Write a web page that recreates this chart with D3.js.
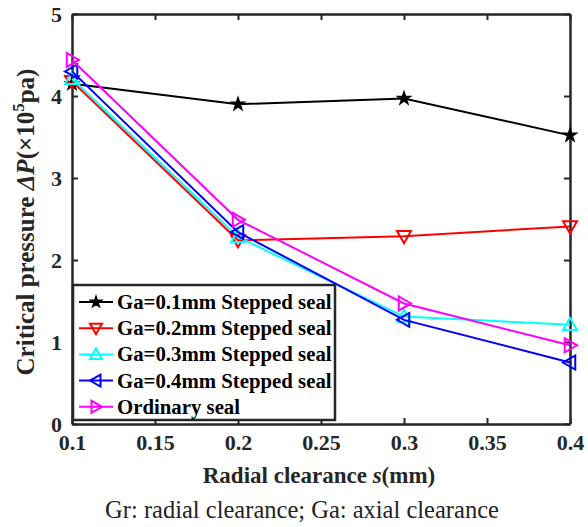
<!DOCTYPE html>
<html>
<head>
<meta charset="utf-8">
<script src="https://cdn.jsdelivr.net/npm/d3@7"></script>
<style>
body { margin: 0; background: #fff; }
svg text { font-family: "Liberation Serif", "Times New Roman", serif; }
</style>
</head>
<body>
<svg id="chart" width="588" height="527"></svg>
<script>
// clearance values (mm)
var clearance = [0.1, 0.2, 0.3, 0.4];

// critical pressure, x10^5 pa
var ga01 = [4.15, 3.90, 3.97, 3.52];
var ga02 = [4.18, 2.24, 2.29, 2.41];
var ga03 = [4.21, 2.28, 1.31, 1.21];
var ga04 = [4.30, 2.34, 1.27, 0.75];
var ordinary = [4.44, 2.49, 1.47, 0.96];

var seriesNames = ["Ga=0.1mm Stepped seal", "Ga=0.2mm Stepped seal", "Ga=0.3mm Stepped seal", "Ga=0.4mm Stepped seal", "Ordinary seal"];
var seriesColors = ["#000000", "#ff0000", "#00ffff", "#0000ff", "#ff00ff"];
var seriesMarkers = ["star", "down", "up", "left", "right"];
var seriesValues = [ga01, ga02, ga03, ga04, ordinary];

var xTicks = [0.1, 0.15, 0.2, 0.25, 0.3, 0.35, 0.4];
var yTicks = [0, 1, 2, 3, 4, 5];

var svg = d3.select("#chart");
var pLeft = 72, pRight = 570, pTop = 14, pBottom = 424;

var x = d3.scaleLinear().domain([0.1, 0.4]).range([pLeft, pRight]);
var y = d3.scaleLinear().domain([0, 5]).range([pBottom, pTop]);

function markerPath(type, r) {
  if (type == "star") {
    return d3.symbol().type(d3.symbolStar).size(r * r)();
  }
  var pts;
  if (type == "down") pts = [[-r, -r * 0.75], [r, -r * 0.75], [0, r]];
  if (type == "up") pts = [[-r, r * 0.75], [r, r * 0.75], [0, -r]];
  if (type == "left") pts = [[r * 0.75, -r], [r * 0.75, r], [-r, 0]];
  if (type == "right") pts = [[-r * 0.75, -r], [-r * 0.75, r], [r, 0]];
  return "M" + pts.join("L") + "Z";
}

// axes (inward ticks, boxed)
var axisColor = "#262626";
var gx = svg.append("g").attr("transform", "translate(0," + pBottom + ")")
  .call(d3.axisBottom(x).tickValues(xTicks).tickSizeInner(-6).tickSizeOuter(0)
    .tickFormat(function(d) { return String(+d.toFixed(2)); }));
var gxt = svg.append("g").attr("transform", "translate(0," + pTop + ")")
  .call(d3.axisTop(x).tickValues(xTicks).tickSizeInner(-6).tickSizeOuter(0).tickFormat(""));
var gy = svg.append("g").attr("transform", "translate(" + pLeft + ",0)")
  .call(d3.axisLeft(y).tickValues(yTicks).tickSizeInner(-6).tickSizeOuter(0).tickFormat(d3.format("d")));
var gyr = svg.append("g").attr("transform", "translate(" + pRight + ",0)")
  .call(d3.axisRight(y).tickValues(yTicks).tickSizeInner(-6).tickSizeOuter(0).tickFormat(""));

[gx, gxt, gy, gyr].forEach(function(g) {
  g.select(".domain").attr("stroke", axisColor).attr("stroke-width", 2.5);
  g.selectAll(".tick line").attr("stroke", axisColor).attr("stroke-width", 2);
  g.selectAll(".tick text").attr("fill", axisColor)
    .style("font-size", "22px").style("font-weight", "bold")
    .style("font-family", "'Liberation Serif', serif");
});
gx.selectAll(".tick text").attr("dy", "1.05em");
gy.selectAll(".tick text").attr("x", -10);

// lines and markers
var line = d3.line().x(function(d) { return x(d[0]); }).y(function(d) { return y(d[1]); });

seriesValues.forEach(function(vals, i) {
  var pts = clearance.map(function(c, j) { return [c, vals[j]]; });
  var g = svg.append("g");
  g.append("path").attr("d", line(pts)).attr("fill", "none")
    .attr("stroke", seriesColors[i]).attr("stroke-width", 2);
  g.selectAll("path.m").data(pts).enter().append("path").attr("class", "m")
    .attr("transform", function(d) { return "translate(" + x(d[0]) + "," + y(d[1]) + ")"; })
    .attr("d", markerPath(seriesMarkers[i], 7))
    .attr("fill", seriesMarkers[i] == "star" ? "#000" : "none")
    .attr("stroke", seriesColors[i]).attr("stroke-width", seriesMarkers[i] == "star" ? 1.5 : 2);
});

// legend
var lg = svg.append("g");
var lx = 73, ly = 285, lw = 262, lh = 135;
lg.append("rect").attr("x", lx).attr("y", ly).attr("width", lw).attr("height", lh)
  .attr("fill", "#fff").attr("stroke", axisColor).attr("stroke-width", 2.5);
seriesNames.forEach(function(name, i) {
  var yy = ly + 17 + i * 26.2;
  lg.append("line").attr("x1", lx + 6).attr("x2", lx + 40).attr("y1", yy).attr("y2", yy)
    .attr("stroke", seriesColors[i]).attr("stroke-width", 2);
  lg.append("path").attr("transform", "translate(" + (lx + 23) + "," + yy + ")")
    .attr("d", markerPath(seriesMarkers[i], 6))
    .attr("fill", seriesMarkers[i] == "star" ? "#000" : "none")
    .attr("stroke", seriesColors[i]).attr("stroke-width", seriesMarkers[i] == "star" ? 1.5 : 2);
  lg.append("text").attr("x", lx + 44).attr("y", yy + 7)
    .style("font-size", "20.8px").style("font-weight", "bold").attr("fill", "#000")
    .text(name);
});

// axis titles
var xl = svg.append("text").attr("x", 319).attr("y", 483)
  .attr("text-anchor", "middle").style("font-size", "23px").style("font-weight", "bold")
  .attr("fill", axisColor);
xl.append("tspan").text("Radial clearance ");
xl.append("tspan").style("font-style", "italic").text("s");
xl.append("tspan").text("(mm)");

var yl = svg.append("text").attr("transform", "translate(34,222) rotate(-90)")
  .attr("text-anchor", "middle").style("font-size", "25px").style("font-weight", "bold")
  .attr("fill", axisColor);
yl.append("tspan").text("Critical pressure ");
yl.append("tspan").style("font-style", "italic").text("ΔP");
yl.append("tspan").text("(×10");
yl.append("tspan").attr("dy", -10).style("font-size", "17px").text("5");
yl.append("tspan").attr("dy", 10).text("pa)");

svg.append("text").attr("x", 302).attr("y", 518).attr("text-anchor", "middle")
  .style("font-size", "24.5px").attr("fill", "#222")
  .text("Gr: radial clearance; Ga: axial clearance");
</script>
</body>
</html>
